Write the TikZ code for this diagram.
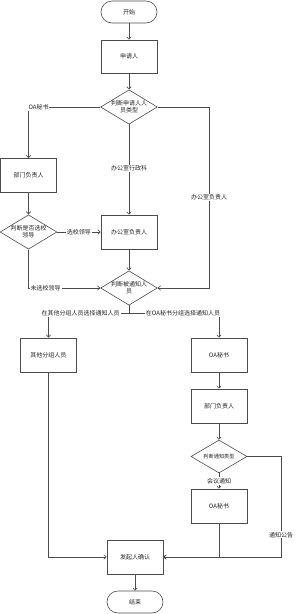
\documentclass[tikz,border=0pt]{standalone}
\usepackage{fontspec}
\setmainfont{Noto Sans CJK SC}
\usetikzlibrary{arrows.meta,shapes.geometric}
\begin{document}
\begin{tikzpicture}[x=1pt,y=-1pt,
  every node/.style={font=\fontsize{6}{7}\selectfont, text=black!85},
  line/.style={draw=black!70, line width=0.6pt},
  arr/.style={line, -{Straight Barb[length=2.5pt,width=4.5pt]}},
  box/.style={line, rectangle, minimum width=56pt, minimum height=34pt, inner sep=1pt, align=center},
  term/.style={line, rectangle, rounded corners=11pt, minimum width=56pt, minimum height=22pt, inner sep=1pt},
  dia/.style={line, diamond, aspect=1.65, minimum width=56pt, minimum height=34pt, inner sep=0pt, align=center},
  lbl/.style={fill=white, inner sep=0.8pt}]
\useasboundingbox (0,0) rectangle (297,614);
\node[term] (start) at (129,12) {开始};
\node[box, minimum height=33pt] (apply) at (129,56.5) {申请人};
\node[dia] (d1) at (129,107) {判断申请人人\\员类型};
\node[box] (dept1) at (28.5,175.5) {部门负责人};
\node[dia] (d3) at (28.5,232) {判断是否选校\\领导};
\node[box] (office) at (129,232) {办公室负责人};
\node[dia, minimum height=33pt] (d2) at (129,288) {判断被通知人\\员};
\node[box] (other) at (48.5,355) {其他分组人员};
\node[box] (oa1) at (219,355) {OA秘书};
\node[box] (dept2) at (219,406) {部门负责人};
\node[dia, minimum height=33pt, font=\fontsize{5.2}{6}\selectfont] (d4) at (219,456.5) {判断通知类型};
\node[box] (oa2) at (219,506) {OA秘书};
\node[box] (confirm) at (135,557) {发起人确认};
\node[term] (end) at (135,602) {结束};

\coordinate (r1) at (209,107);
\coordinate (r2) at (209,288);
\coordinate (j) at (129,313);
\coordinate (r3) at (281,456.5);
\coordinate (r4) at (281,557);

\draw[arr] (start) -- (apply);
\draw[arr] (apply) -- (d1);
\draw[arr] (d1.west) -| node[lbl, pos=0.43] {OA秘书} (dept1.north);
\draw[arr] (d1.south) -- node[lbl, pos=0.49] {办公室行政科} (office.north);
\draw[arr] (d1.east) -- (r1) -- node[lbl] {办公室负责人} (r2) -- (d2.east);
\draw[arr] (dept1) -- (d3);
\draw[arr] (d3.east) -- node[lbl, pos=0.5] {选校领导} (office.west);
\draw[arr] (d3.south) |- node[lbl, pos=0.62] {未选校领导} (d2.west);
\draw[arr] (office) -- (d2);
\draw[line] (d2.south) -- (j);
\draw[arr] (j) -| node[lbl, pos=0.3] {在其他分组人员选择通知人员} (other.north);
\draw[arr] (j) -| node[lbl, pos=0.3] {在OA秘书分组选择通知人员} (oa1.north);
\draw[arr] (oa1) -- (dept2);
\draw[arr] (dept2) -- (d4);
\draw[arr] (d4.south) -- node[lbl, pos=0.5] {会议通知} (oa2.north);
\draw[arr] (d4.east) -- (r3) -- node[lbl, pos=0.78] {通知公告} (r4) -- (confirm.east);
\draw[arr] (oa2.south) |- (confirm.east);
\draw[arr] (other.south) |- (confirm.west);
\draw[arr] (confirm) -- (end);
\end{tikzpicture}
\end{document}
